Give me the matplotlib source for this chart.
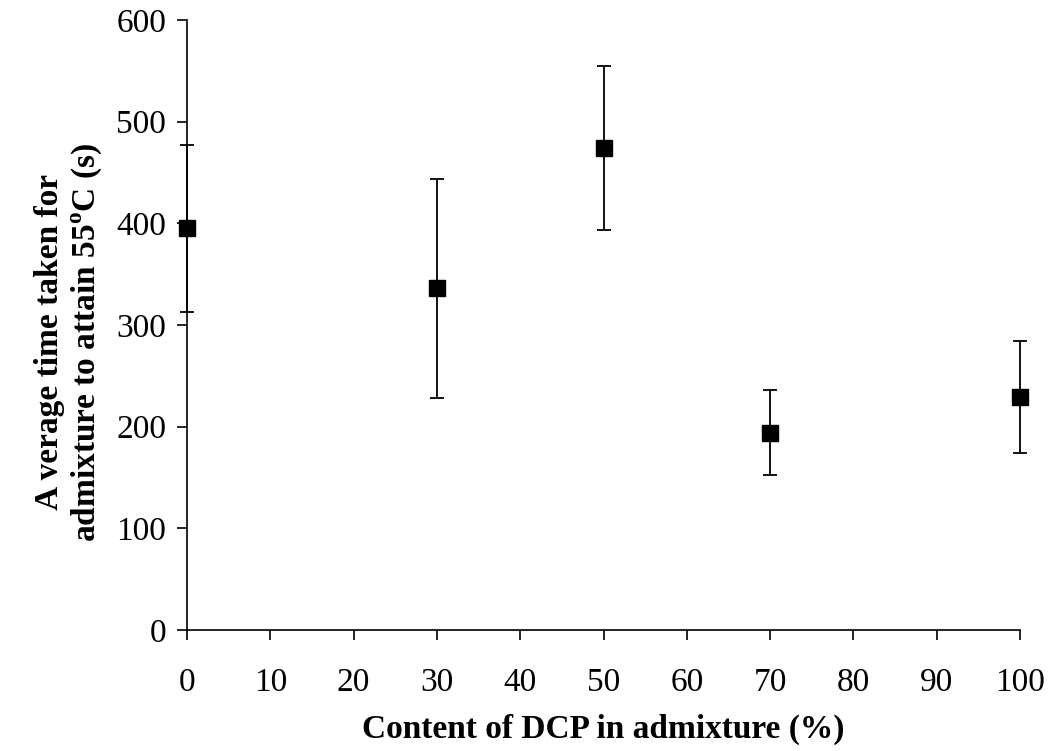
import matplotlib
matplotlib.use('Agg')
import matplotlib.pyplot as plt
import numpy as np

plt.rcParams['font.family'] = ['Liberation Serif', 'DejaVu Serif']
plt.rcParams['mathtext.fontset'] = 'custom'
plt.rcParams['mathtext.rm'] = 'Liberation Serif'
plt.rcParams['mathtext.bf'] = 'Liberation Serif:bold'

# data
dcp = [0, 30, 50, 70, 100]
avg_time = [395, 336, 474, 194, 229]
err = [82, 108, 81, 42, 55]

fig = plt.figure(figsize=(10.55, 7.51), dpi=100)
ax = fig.add_axes([0.1773, 0.1611, 0.7895, 0.8123])

ax.errorbar(dcp, avg_time, yerr=err, fmt='s', color='k', ms=12,
            ecolor='k', elinewidth=1.3, capsize=5, capthick=1.3, clip_on=False, zorder=3)

ax.set_xlim(0, 100)
ax.set_ylim(0, 600)
ax.set_xticks(np.arange(0, 101, 10))
ax.set_yticks(np.arange(0, 601, 100))
ax.spines['top'].set_visible(False)
ax.spines['right'].set_visible(False)
ax.spines['left'].set_linewidth(1.2)
ax.spines['bottom'].set_linewidth(1.2)
ax.tick_params(direction='out', length=7, width=1.2, labelsize=24)
ax.tick_params(axis='x', pad=20)
ax.tick_params(axis='y', pad=8)

ax.set_xlabel('Content of DCP in admixture (%)', fontsize=24, fontweight='bold', labelpad=11)
ax.set_ylabel('A verage time taken for\nadmixture to attain 55$^{\\mathbf{o}}$C (s)',
              fontsize=24, fontweight='bold', labelpad=9, linespacing=1.15)
ax.yaxis.label.set_y(0.472)

fig.savefig('out.png', dpi=100)
